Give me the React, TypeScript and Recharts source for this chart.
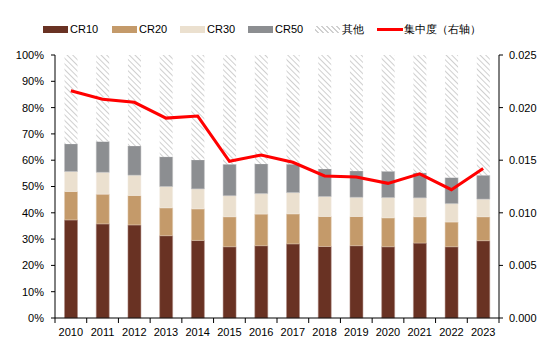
import { ComposedChart, Bar, Line, XAxis, YAxis } from 'recharts';

// cumulative shares (%)
const years = ['2010', '2011', '2012', '2013', '2014', '2015', '2016', '2017', '2018', '2019', '2020', '2021', '2022', '2023'];
const cr10 = [37.3, 35.8, 35.4, 31.3, 29.5, 27.1, 27.5, 28.2, 27.2, 27.5, 27.1, 28.5, 27.1, 29.4];
const cr20 = [48.1, 47.1, 46.6, 41.9, 41.5, 38.5, 39.5, 39.6, 38.6, 38.6, 38.1, 38.5, 36.5, 38.5];
const cr30 = [55.7, 55.4, 54.3, 50.0, 49.1, 46.5, 47.3, 47.7, 46.2, 45.9, 45.8, 45.7, 43.5, 45.2];
const cr50 = [66.2, 67.1, 65.4, 61.3, 60.1, 58.5, 58.6, 58.5, 56.7, 55.9, 55.8, 55.2, 53.4, 54.3];
const concentration = [0.0216, 0.0208, 0.0205, 0.019, 0.0192, 0.0149, 0.0155, 0.0148, 0.0135, 0.0134, 0.0128, 0.0137, 0.0122, 0.0142];

const leftTicks = [0, 0.1, 0.2, 0.3, 0.4, 0.5, 0.6, 0.7, 0.8, 0.9, 1];
const rightTicks = [0, 0.005, 0.01, 0.015, 0.02, 0.025];

const data = years.map((year, i) => ({
  year,
  s10: cr10[i] / 100,
  s20: (cr20[i] - cr10[i]) / 100,
  s30: (cr30[i] - cr20[i]) / 100,
  s50: (cr50[i] - cr30[i]) / 100,
  rest: (100 - cr50[i]) / 100,
  conc: concentration[i],
}));

const W = 557;
const H = 340;
const LEFT = 55;
const RIGHT_W = 58;
const BAND = (W - LEFT - RIGHT_W) / years.length;
const FONT = '"Liberation Sans", Arial, sans-serif';

function XTick(props: any) {
  const { x, y, payload, index } = props;
  return (
    <g>
      {index === 0 && <line x1={x - BAND / 2} x2={x - BAND / 2} y1={y} y2={y + 5} stroke="#000" />}
      <line x1={x + BAND / 2} x2={x + BAND / 2} y1={y} y2={y + 5} stroke="#000" />
      <text x={x} y={y + 18} textAnchor="middle" fontSize={11} fill="#000" fontFamily={FONT}>
        {payload.value}
      </text>
    </g>
  );
}

const legendItems = [
  { label: 'CR10', left: 43, kind: 'box', color: '#693223' },
  { label: 'CR20', left: 112, kind: 'box', color: '#C49A6A' },
  { label: 'CR30', left: 180, kind: 'box', color: '#EBE0CF' },
  { label: 'CR50', left: 248, kind: 'box', color: '#8C8E91' },
  { label: '其他', left: 315, kind: 'hatch', color: '#d0d0d0' },
  { label: '集中度（右轴）', left: 377, kind: 'line', color: '#FF0000' },
];

export default function App() {
  return (
    <div style={{ position: 'absolute', left: 0, top: 0, width: W, height: H, background: '#fff', fontFamily: FONT }}>
      {legendItems.map((it) => (
        <div
          key={it.label}
          style={{ position: 'absolute', left: it.left, top: 21, height: 16, display: 'flex', alignItems: 'center', fontSize: 11, color: '#000' }}
        >
          {it.kind === 'box' && <div style={{ width: 25, height: 7, background: it.color, marginRight: 2 }} />}
          {it.kind === 'hatch' && (
            <div
              style={{
                width: 25,
                height: 7,
                marginRight: 2,
                background: 'repeating-linear-gradient(45deg, #fff 0px, #fff 2px, #d0d0d0 2px, #d0d0d0 3.5px)',
              }}
            />
          )}
          {it.kind === 'line' && <div style={{ width: 26, height: 3, background: it.color, marginRight: 1 }} />}
          <span>{it.label}</span>
        </div>
      ))}
      <ComposedChart
        width={W}
        height={H}
        data={data}
        margin={{ top: 55, right: 0, bottom: 0, left: 0 }}
        barCategoryGap="30%"
        style={{ position: 'absolute', left: 0, top: 0 }}
      >
        <defs>
          <pattern id="hatch" width="4" height="4" patternUnits="userSpaceOnUse" patternTransform="rotate(-45)">
            <rect width="4" height="4" fill="#fff" />
            <line x1="0" y1="0" x2="0" y2="4" stroke="#cfcfcf" strokeWidth="2" />
          </pattern>
        </defs>
        <XAxis
          dataKey="year"
          height={22}
          stroke="#000"
          tickLine={false}
          tickSize={0}
          tickMargin={0}
          tick={(p: any) => <XTick {...p} />}
          interval={0}
        />
        <YAxis
          yAxisId="left"
          width={LEFT}
          domain={[0, 1]}
          ticks={leftTicks}
          tickFormatter={(v: number) => `${Math.round(v * 100)}%`}
          stroke="#000"
          tickSize={4}
          tickMargin={7}
          tick={{ fontSize: 11, fill: '#000', fontFamily: FONT }}
          interval={0}
        />
        <YAxis
          yAxisId="right"
          orientation="right"
          width={RIGHT_W}
          domain={[0, 0.025]}
          ticks={rightTicks}
          tickFormatter={(v: number) => v.toFixed(3)}
          stroke="#000"
          tickSize={4}
          tickMargin={6}
          tick={{ fontSize: 11, fill: '#000', fontFamily: FONT, textAnchor: 'start' }}
          interval={0}
        />
        <Bar yAxisId="left" dataKey="s10" stackId="a" fill="#693223" stroke="#b08c84" strokeWidth={0.5} isAnimationActive={false} />
        <Bar yAxisId="left" dataKey="s20" stackId="a" fill="#C49A6A" stroke="#e0c9ae" strokeWidth={0.5} isAnimationActive={false} />
        <Bar yAxisId="left" dataKey="s30" stackId="a" fill="#EBE0CF" stroke="#f5efe6" strokeWidth={0.5} isAnimationActive={false} />
        <Bar yAxisId="left" dataKey="s50" stackId="a" fill="#8C8E91" stroke="#c0c1c3" strokeWidth={0.5} isAnimationActive={false} />
        <Bar yAxisId="left" dataKey="rest" stackId="a" fill="url(#hatch)" isAnimationActive={false} />
        <Line
          yAxisId="right"
          dataKey="conc"
          type="linear"
          stroke="#FF0000"
          strokeWidth={3}
          dot={false}
          activeDot={false}
          isAnimationActive={false}
        />
      </ComposedChart>
    </div>
  );
}
